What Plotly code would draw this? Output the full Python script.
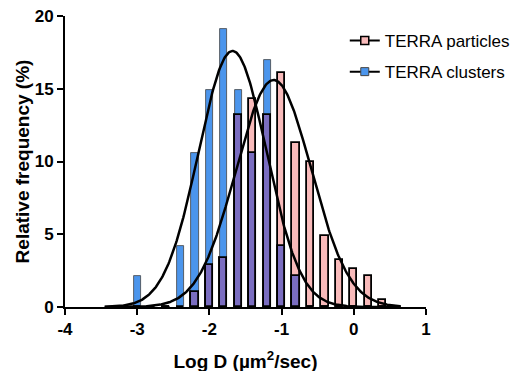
import numpy as np
import plotly.graph_objects as go

# ---- data ----
bin_centers = [-3.0, -2.8, -2.6, -2.4, -2.2, -2.0, -1.8, -1.6, -1.4, -1.2,
               -1.0, -0.8, -0.6, -0.4, -0.2, 0.0, 0.2, 0.4]
clusters_freq = [2.1, 0, 0, 4.2, 10.6, 14.9, 19.1, 14.9, 10.6, 17.0,
                 4.2, 2.1, 0, 0, 0, 0, 0, 0]
particles_freq = [0, 0, 0, 0, 1.0, 2.9, 3.4, 13.2, 14.3, 13.2,
                  16.1, 11.3, 10.0, 4.9, 3.2, 2.6, 2.1, 0.5]

# Gaussian fit parameters (amplitude, mean, sd)
clusters_fit = (17.6, -1.68, 0.47)
particles_fit = (15.6, -1.11, 0.52)
fit_range = (-3.45, 0.65)

x_ticks = [-4, -3, -2, -1, 0, 1]
y_ticks = [0, 5, 10, 15, 20]

BLUE = "#4b95ec"
PINK = "#f8baba"
PURPLE = "#7a6dc0"

overlap = [min(a, b) for a, b in zip(clusters_freq, particles_freq)]

fig = go.Figure()

bar_w = 0.1
fig.add_trace(go.Bar(x=bin_centers, y=particles_freq, width=bar_w,
                     marker=dict(color=PINK, line=dict(color="black", width=1.8)),
                     showlegend=False, hoverinfo="skip"))
fig.add_trace(go.Bar(x=bin_centers, y=clusters_freq, width=bar_w,
                     marker=dict(color=BLUE, line=dict(color="#444444", width=0.8)),
                     showlegend=False, hoverinfo="skip"))
fig.add_trace(go.Bar(x=bin_centers, y=overlap, width=bar_w,
                     marker=dict(color=PURPLE, line=dict(color="black", width=1.8)),
                     showlegend=False, hoverinfo="skip"))


def gauss(params, xs):
    a, m, s = params
    return a * np.exp(-((xs - m) ** 2) / (2 * s ** 2))


xs = np.linspace(fit_range[0], fit_range[1], 400)
for params in (clusters_fit, particles_fit):
    fig.add_trace(go.Scatter(x=xs, y=gauss(params, xs), mode="lines",
                             line=dict(color="black", width=2.5),
                             showlegend=False, hoverinfo="skip"))

# legend entries
fig.add_trace(go.Scatter(x=[None], y=[None], mode="lines+markers",
                         name="TERRA particles", legendgroup="p",
                         line=dict(color="black", width=2),
                         marker=dict(symbol="square", size=8, color=PINK,
                                     line=dict(color="black", width=1.5))))
fig.add_trace(go.Scatter(x=[None], y=[None], mode="lines+markers",
                         name="TERRA clusters", legendgroup="c",
                         line=dict(color="black", width=2),
                         marker=dict(symbol="square", size=8, color=BLUE,
                                     line=dict(color="#444444", width=1))))

axis_font = dict(family="Liberation Sans, Arial, sans-serif", size=17,
                 color="black", weight="bold")
title_font = dict(family="Liberation Sans, Arial, sans-serif", size=19,
                  color="black", weight="bold")

# the page body adds an 8px offset, so margins are shifted by 8px
fig.update_layout(
    width=522, height=371,
    margin=dict(l=57, r=104, t=8, b=72, autoexpand=False),
    paper_bgcolor="white", plot_bgcolor="white",
    barmode="overlay", bargap=0,
    showlegend=True,
    legend=dict(x=0.775, y=0.976, xanchor="left", yanchor="top",
                font=dict(family="Liberation Sans, Arial, sans-serif", size=17,
                          color="black"),
                bgcolor="rgba(0,0,0,0)", traceorder="grouped",
                tracegroupgap=6),
    xaxis=dict(range=[-4, 1], tickvals=x_ticks, ticktext=[str(t) for t in x_ticks],
               showline=True, linecolor="black", linewidth=2,
               ticks="outside", ticklen=6, tickwidth=2, tickcolor="black",
               showgrid=False, zeroline=False, tickfont=axis_font,
               automargin=False, ticklabeloverflow="allow",
               title=dict(text="Log D (µm<sup>2</sup>/sec)", font=title_font,
                          standoff=16)),
    yaxis=dict(range=[0, 20], tickvals=y_ticks,
               showline=True, linecolor="black", linewidth=2,
               ticks="outside", ticklen=6, tickwidth=2, tickcolor="black",
               showgrid=False, zeroline=False, tickfont=axis_font,
               automargin=False, ticklabeloverflow="allow",
               title=dict(text="Relative frequency (%)", font=title_font,
                          standoff=0)),
)

fig.write_html("out.html")
